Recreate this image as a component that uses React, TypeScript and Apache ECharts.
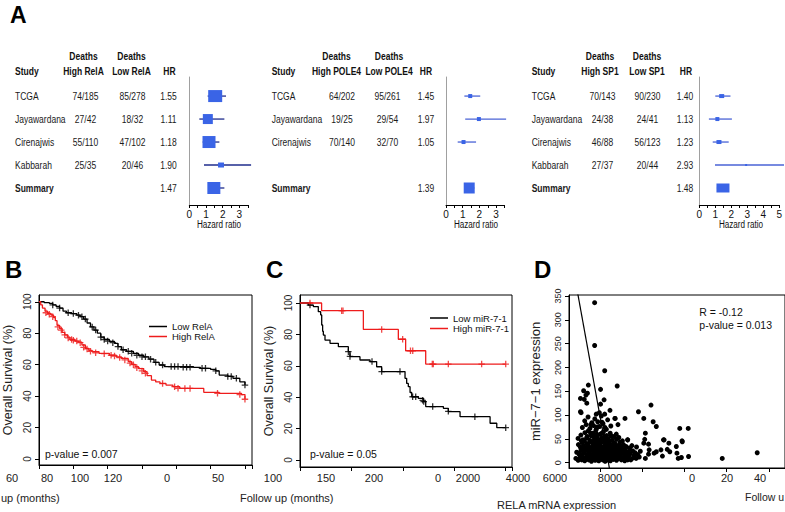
import React, { useEffect, useRef } from 'react';
import * as echarts from 'echarts';

const FONT = '"Liberation Sans", Arial, Helvetica, sans-serif';

// ---------------- Panel A : forest plots ----------------
const relaStudies = ['TCGA', 'Jayawardana', 'Cirenajwis', 'Kabbarah'];
const relaDeathsHigh = ['74/185', '27/42', '55/110', '25/35'];
const relaDeathsLow = ['85/278', '18/32', '47/102', '20/46'];
const relaHR = [1.55, 1.11, 1.18, 1.9];
const relaCILow = [1.1, 0.6, 0.8, 0.88];
const relaCIHigh = [2.2, 2.1, 1.8, 3.7];
const relaSummary = [1.47, 1.2, 2.1];

const pole4Studies = ['TCGA', 'Jayawardana', 'Cirenajwis'];
const pole4DeathsHigh = ['64/202', '19/25', '70/140'];
const pole4DeathsLow = ['95/261', '29/54', '32/70'];
const pole4HR = [1.45, 1.97, 1.05];
const pole4CILow = [1.1, 1.15, 0.7];
const pole4CIHigh = [2.05, 3.6, 1.8];
const pole4Summary = [1.39, 1.15, 1.7];

const sp1Studies = ['TCGA', 'Jayawardana', 'Cirenajwis', 'Kabbarah'];
const sp1DeathsHigh = ['70/143', '24/38', '46/88', '27/37'];
const sp1DeathsLow = ['90/230', '24/41', '56/123', '20/44'];
const sp1HR = [1.4, 1.13, 1.23, 2.93];
const sp1CILow = [1.0, 0.6, 0.84, 0.98];
const sp1CIHigh = [1.95, 2.04, 1.84, 5.3];
const sp1Summary = [1.48, 1.1, 1.85];

// box sizes (style, px)
const relaBoxes = [[14, 12], [10, 10], [13, 12], [6, 5]];
const relaSummaryBox = [13, 12];
const pole4Boxes = [[4, 4], [4, 4], [4, 4]];
const pole4SummaryBox = [11, 11];
const sp1Boxes = [[5, 4], [4, 4], [5, 4], [2, 2]];
const sp1SummaryBox = [13, 9];

// ---------------- Panel B : KM RelA ----------------
const kmLowRelA = [
  [0, 100], [3, 99.5], [6, 99], [8, 98], [10, 97], [12, 96], [14, 94], [16, 93], [19, 92.5], [22, 91.5],
  [24, 90.5], [26, 89], [28, 86.5], [30, 84], [32, 82], [34, 80], [36, 77.5], [38, 76], [41, 74.8], [44, 73.5],
  [46, 71.5], [48, 69.5], [51, 68.5], [55, 67.2], [58, 66], [61, 65], [64, 63.5], [67, 61.5], [70, 59.8], [73, 58.8],
  [90, 58.3], [94, 57.7], [100, 57], [103, 56.1], [105, 53.4], [110, 52.5], [113, 51.3], [117, 49.1], [120, 47],
];
const censorLowRelA = [
  [8, 98], [12, 96], [17, 93], [20, 92.5], [23, 91.5], [25, 90.5], [27, 89], [31, 84], [33, 82], [36, 77.5],
  [38, 76], [40, 75], [43, 74], [46, 71.5], [49, 69.5], [52, 68.5], [54, 67.2], [57, 66], [60, 65], [62, 65],
  [65, 63.5], [68, 61.5], [72, 59.8], [77, 58.8], [79, 58.8], [81, 58.8], [84, 58.3], [86, 58.3], [88, 58.3],
  [95, 57.7], [97, 57.7], [103, 56.1], [110, 52.5], [112, 52.5], [115, 51.3], [120, 47],
];
const kmHighRelA = [
  [0, 100], [1, 98], [2, 96], [3.5, 94], [5, 92.6], [7, 91.5], [8.5, 90], [9.5, 88], [10.5, 85], [12, 83],
  [13.5, 80.5], [15, 79], [16.5, 77.5], [18, 76], [21, 75], [23, 74.3], [25, 72.5], [27, 70.4], [29, 69], [31, 68.2],
  [35, 67.2], [41, 66.1], [45, 65], [48, 64], [52, 61.9], [54, 60.2], [56, 58.7], [58, 57.5], [61, 55.5], [63, 53],
  [65.5, 50.2], [68, 49], [70.5, 48.1], [74, 47], [78, 46], [82, 44.9], [96, 42.4], [105, 41.8], [118, 41], [120, 38],
];
const censorHighRelA = [
  [4, 93], [6, 92], [8, 90.5], [11, 84], [13, 82], [15, 79], [17, 77], [19, 76], [20, 75.5], [22, 75],
  [24, 74], [26, 71], [28, 70], [30, 68.5], [33, 67.5], [38, 67], [42, 66], [44, 65.5], [47, 64.5], [50, 63],
  [53, 61], [55, 60], [57, 58], [60, 56], [62, 54.5], [72, 48], [79, 46], [81, 45], [85, 44.9], [88, 44.9],
  [104, 41.8], [117, 41], [120, 38],
];

// ---------------- Panel C : KM miR-7-1 ----------------
const kmLowMir = [
  [0, 100], [8, 98.7], [13, 97.7], [17.8, 94.5], [20.1, 92.4], [21.1, 86], [22, 82], [22.7, 79.6], [24.3, 76.4],
  [29.2, 74.3], [37.3, 72.2], [47, 69], [48.6, 65.8], [58.3, 63.7], [68.1, 62.7], [74.5, 59.4], [79.4, 56.3],
  [102.1, 52], [103.7, 48.8], [105.3, 46.7], [107, 43], [108.6, 40.3], [115, 39.3], [119.9, 37.2], [122.2, 34],
  [139.4, 32.9], [144.2, 30.8], [155.6, 27.6], [184.8, 23.4], [191.3, 20.6], [200, 20.6],
];
const censorLowMir = [
  [9.7, 98.7], [47, 69], [48.6, 66], [70, 62.7], [79.4, 56.3], [97.2, 56.3], [109.5, 40.3], [112.5, 40.3],
  [119.3, 38], [120.3, 37.2], [129, 34], [144.2, 31], [170, 27.6], [200, 20.6],
];
const kmHighMir = [[0, 100], [21, 95.1], [61.6, 83.2], [95.6, 76.9], [102.7, 69.6], [122.2, 61.1], [200, 61.1]];
const censorHighMir = [
  [9.7, 100], [40.5, 95.1], [41.8, 95.1], [79.4, 83.2], [99.8, 76.9], [107.4, 69.6], [109.6, 69.6],
  [128.6, 61.1], [129.6, 61.1], [144.2, 61.1], [176.6, 61.1], [200, 61.1],
];
const survivalTicks = [0, 20, 40, 60, 80, 100];

// ---------------- Panel D : scatter ----------------
const relaMirPoints = [
  [6840, 9], [6950, 5], [7050, 12], [7120, 6], [7200, 10], [7260, 4], [7330, 8], [7400, 13], [7450, 6], [7520, 10],
  [7580, 3], [7640, 8], [7700, 12], [7760, 5], [7820, 9], [7880, 14], [7930, 4], [7990, 8], [8050, 11], [8110, 6],
  [8170, 13], [8230, 3], [8290, 9], [8350, 6], [8420, 12], [8480, 4], [8550, 10], [8620, 7], [8700, 13], [8770, 5],
  [8840, 9], [8920, 12], [9000, 6], [9080, 10], [9160, 4], [9250, 8], [9350, 13], [9450, 6], [9560, 10], [9700, 9],
  [9850, 12], [10140, 9],
  [6880, 22], [6990, 18], [7080, 26], [7150, 16], [7230, 21], [7300, 28], [7370, 17], [7430, 24], [7500, 19], [7560, 27],
  [7620, 16], [7680, 22], [7740, 29], [7800, 18], [7860, 25], [7910, 20], [7970, 27], [8030, 16], [8090, 23], [8150, 19],
  [8210, 28], [8270, 17], [8330, 24], [8390, 20], [8460, 27], [8530, 18], [8600, 23], [8680, 16], [8750, 26], [8820, 21],
  [8900, 18], [8980, 25], [9060, 20], [9150, 27], [9240, 17], [9330, 22], [9430, 19], [9540, 25], [9650, 21], [9780, 17],
  [9900, 24],
  [6960, 38], [7050, 33], [7140, 42], [7210, 35], [7290, 31], [7360, 40], [7440, 36], [7510, 44], [7590, 32], [7660, 39],
  [7720, 34], [7790, 43], [7850, 37], [7920, 31], [7980, 41], [8040, 35], [8100, 44], [8170, 32], [8240, 38], [8310, 42],
  [8380, 34], [8450, 39], [8530, 31], [8610, 36], [8700, 40], [8790, 33], [8880, 37], [8990, 32], [9100, 38], [9220, 34],
  [9380, 31], [9500, 36], [9720, 33],
  [6945, 51], [7080, 58], [7180, 48], [7270, 63], [7350, 52], [7430, 67], [7500, 47], [7580, 56], [7650, 62], [7720, 50],
  [7790, 68], [7860, 54], [7930, 46], [8000, 60], [8070, 52], [8150, 65], [8230, 48], [8300, 57], [8380, 50], [8470, 62],
  [8560, 47], [8660, 55], [8770, 49], [8880, 53], [9050, 46], [9300, 48],
  [7150, 74], [7260, 88], [7330, 80], [7420, 96], [7510, 72], [7600, 84], [7680, 78], [7740, 92], [7810, 71], [7880, 86],
  [7960, 76], [8050, 98], [8130, 82], [8220, 74], [8350, 90], [8500, 77], [8700, 93], [8840, 80],
  [7350, 12], [7470, 20], [7560, 14], [7610, 30], [7690, 7], [7750, 17], [7840, 32], [7890, 6], [7950, 22], [8010, 47],
  [8060, 28], [8120, 10], [8190, 24], [8260, 40], [8320, 13], [8400, 29], [8440, 8], [8510, 23], [8580, 14], [8640, 31],
  [8720, 20], [8800, 11], [8860, 28], [8950, 15], [9020, 34], [9120, 12], [9200, 24], [9300, 6], [9400, 28], [9600, 15],
  [7250, 45], [7380, 55], [7470, 30], [7540, 62], [7620, 44], [7700, 57], [7770, 38], [7830, 60], [7900, 48], [7960, 37],
  [8080, 62], [8200, 55], [8280, 33], [8420, 45], [8520, 56], [8640, 42], [8760, 60], [8930, 43], [7020, 20], [7100, 46],
  [7180, 28], [7550, 80], [7860, 75], [8080, 85], [8290, 70],
  // sparse / outliers
  [7732, 336], [7732, 246], [8210, 193], [8803, 161], [8013, 154], [7433, 163], [7210, 151], [7390, 146], [7318, 142],
  [7060, 135], [7240, 133], [7360, 125], [8180, 132], [8013, 123], [10408, 121], [9812, 107], [8460, 110], [7090, 105],
  [7808, 102], [7955, 105], [8210, 102], [7060, 107], [8700, 93], [10065, 93], [9173, 93], [10510, 86], [10660, 76],
  [11773, 72], [12175, 72], [10140, 62], [10110, 49], [11000, 48], [11893, 44], [11256, 41], [10065, 41], [10290, 39],
  [11610, 34], [11180, 28], [10880, 27], [11300, 23], [10660, 23], [10320, 27], [10290, 18], [10555, 20], [11640, 20],
  [11700, 9], [11850, 11], [12190, 13], [13790, 9], [15450, 21], [11030, 48], [11880, 46], [9300, 48], [10950, 14],
];
const fitLine = [[6900, 362.5], [8470, -20.3]];
const mirTicks = [0, 50, 100, 150, 200, 250, 300, 350];
const relaTicks = [8000, 10000, 12000, 14000, 16000];

// stray (misaligned) tick labels and titles along the bottom of the figure
const strayTickTexts = ['60', '80', '100', '120', '0', '50', '100', '150', '200', '0', '2000', '4000', '6000', '8000', '0', '20', '40'];
const strayTickX = [12, 47, 80, 113, 167, 218, 273, 326, 374, 438, 468, 518, 555, 610, 692, 727, 760];

const BOX_COLOR = '#3a64e6';
const RED = '#ee1c1c';
const PLUS = 'path://M4,0H6V4H10V6H6V10H4V6H0V4H4Z';

function txt(text: string, x: number, y: number, o: any = {}) {
  const align = o.align || 'left';
  const va = o.va || 'middle';
  return {
    type: 'text', x, y, scaleX: o.sx || 1, silent: true,
    style: {
      text, fill: o.fill || '#111',
      font: `${o.bold ? 'bold ' : ''}${o.size || 11}px ${FONT}`,
      align, textAlign: align, verticalAlign: va, textVerticalAlign: va,
    },
  };
}

const forestPanels = [
  {
    studies: relaStudies, high: relaDeathsHigh, low: relaDeathsLow, hr: relaHR, lo: relaCILow, hi: relaCIHigh,
    sum: relaSummary, boxes: relaBoxes, sumBox: relaSummaryBox, highLabel: 'High RelA', lowLabel: 'Low RelA',
    xMax: 3.5, left: 189.3, lineColor: '#1f2c8c',
    cols: [15, 85.5, 132.5, 168.5], heads: [15, 83.5, 131.5, 169.5], hazardX: 219,
  },
  {
    studies: pole4Studies, high: pole4DeathsHigh, low: pole4DeathsLow, hr: pole4HR, lo: pole4CILow, hi: pole4CIHigh,
    sum: pole4Summary, boxes: pole4Boxes, sumBox: pole4SummaryBox, highLabel: 'High POLE4', lowLabel: 'Low POLE4',
    xMax: 3.5, left: 446, lineColor: '#4a63d6',
    cols: [271.7, 342, 387.5, 426], heads: [271.7, 336.5, 389, 426], hazardX: 476,
  },
  {
    studies: sp1Studies, high: sp1DeathsHigh, low: sp1DeathsLow, hr: sp1HR, lo: sp1CILow, hi: sp1CIHigh,
    sum: sp1Summary, boxes: sp1Boxes, sumBox: sp1SummaryBox, highLabel: 'High SP1', lowLabel: 'Low SP1',
    xMax: 5, left: 699.3, lineColor: '#4a63d6',
    cols: [531.7, 602.5, 647.5, 685], heads: [531.7, 600, 647, 686], hazardX: 741,
  },
];
const UNIT = 16.7;
const TS = 0.74; // condensed table text

function buildOption() {
  const grid: any[] = [];
  const xAxis: any[] = [];
  const yAxis: any[] = [];
  const series: any[] = [];
  const graphics: any[] = [];

  forestPanels.forEach((f, gi) => {
    grid.push({ left: f.left, top: 77, width: f.xMax * UNIT, height: 128 });
    xAxis.push({
      type: 'value', gridIndex: gi, min: 0, max: f.xMax, interval: 0.5,
      axisLine: { show: true, onZero: false, lineStyle: { color: '#000', width: 1 } },
      axisTick: { show: true, length: 3, lineStyle: { color: '#000' } },
      axisLabel: { fontSize: 10, margin: 4, color: '#111', formatter: (v: number) => (Number.isInteger(v) ? String(v) : '') },
      splitLine: { show: false },
    });
    yAxis.push({
      type: 'value', gridIndex: gi, inverse: true, min: -0.83, max: 4.74,
      axisLine: { show: true, onZero: false, lineStyle: { color: '#a0a0a0' } },
      axisTick: { show: false }, axisLabel: { show: false }, splitLine: { show: false },
    });
    const n = f.studies.length;
    const data = f.studies.map((_, i) => [i, f.hr[i], f.lo[i], f.hi[i]]);
    data.push([4, f.sum[0], f.sum[1], f.sum[2]]);
    series.push({
      type: 'custom', xAxisIndex: gi, yAxisIndex: gi, clip: false, silent: true, data,
      renderItem: (params: any, api: any) => {
        const i = params.dataIndex;
        const isSum = i === n;
        const row = api.value(0);
        const hrv = api.value(1);
        const c = api.coord([hrv, row]);
        const a = api.coord([api.value(2), row]);
        const b = api.coord([api.value(3), row]);
        const [bw, bh] = isSum ? f.sumBox : f.boxes[i];
        const y = c[1];
        const t = (text: string, x: number, align: string, bold = false) => ({
          type: 'text', x, y, scaleX: TS,
          style: {
            text, fill: '#1a1a1a', font: `${bold ? 'bold ' : ''}11.5px ${FONT}`,
            align, textAlign: align, verticalAlign: 'middle', textVerticalAlign: 'middle',
          },
        });
        const children: any[] = [
          { type: 'line', shape: { x1: a[0], y1: y, x2: b[0], y2: y }, style: { stroke: f.lineColor, lineWidth: 1.3 } },
          { type: 'rect', shape: { x: c[0] - bw / 2, y: y - bh / 2, width: bw, height: bh }, style: { fill: BOX_COLOR } },
          t(isSum ? 'Summary' : f.studies[i], f.cols[0], 'left', isSum),
          t(hrv.toFixed(2), f.cols[3], 'center'),
        ];
        if (!isSum) {
          children.push(t(f.high[i], f.cols[1], 'center'));
          children.push(t(f.low[i], f.cols[2], 'center'));
        }
        return { type: 'group', children };
      },
    });
    const hb = { bold: true, size: 11.5, sx: TS, align: 'center' };
    graphics.push(txt('Study', f.heads[0], 70.7, { bold: true, size: 11.5, sx: TS }));
    graphics.push(txt('Deaths', f.heads[1], 56, hb));
    graphics.push(txt(f.highLabel, f.heads[1], 70.7, hb));
    graphics.push(txt('Deaths', f.heads[2], 56, hb));
    graphics.push(txt(f.lowLabel, f.heads[2], 70.7, hb));
    graphics.push(txt('HR', f.heads[3], 70.7, hb));
    graphics.push(txt('Hazard ratio', f.hazardX, 224, { size: 11, sx: TS, align: 'center' }));
  });

  // ---- KM + scatter grids
  grid.push({ left: 39, top: 295, width: 213, height: 170, show: true, borderColor: '#000', borderWidth: 1, backgroundColor: 'transparent' });
  grid.push({ left: 300, top: 295, width: 212, height: 172, show: true, borderColor: '#000', borderWidth: 1, backgroundColor: 'transparent' });
  grid.push({ left: 569, top: 295, width: 230, height: 173, show: true, borderColor: '#000', borderWidth: 1, backgroundColor: 'transparent' });

  const xBase = (gi: number, min: number, max: number, extra: any = {}) => ({
    type: 'value', gridIndex: gi, min, max,
    axisLine: { show: true, onZero: false, lineStyle: { color: '#000' } },
    axisTick: { show: true, length: 4, lineStyle: { color: '#000' } },
    axisLabel: { show: false }, splitLine: { show: false }, ...extra,
  });
  xAxis.push(xBase(3, 0, 124.1, { interval: 20 }));
  xAxis.push(xBase(4, 0, 206.1, { interval: 50 }));
  xAxis.push(xBase(5, 6515, 16769, { axisTick: { show: true, length: 4, customValues: relaTicks, lineStyle: { color: '#000' } } }));

  const yBase = (gi: number, min: number, max: number, ticks: number[], name: string, gap: number, size: number, labSize: number) => ({
    type: 'value', gridIndex: gi, min, max,
    axisLine: { show: true, onZero: false, lineStyle: { color: '#000' } },
    axisTick: { show: true, length: 4, customValues: ticks, lineStyle: { color: '#000' } },
    axisLabel: { show: true, customValues: ticks, rotate: 90, fontSize: labSize, color: '#222', margin: 7, fontFamily: FONT },
    splitLine: { show: false },
    name, nameLocation: 'middle', nameGap: gap, nameRotate: 90,
    nameTextStyle: { fontSize: size, color: '#222', fontFamily: FONT },
  });
  yAxis.push(yBase(3, -3.8, 104.3, survivalTicks, 'Overall Survival (%)', 25, 12.5, 10));
  yAxis.push(yBase(4, -4.46, 105.1, survivalTicks, 'Overall Survival (%)', 25, 12.5, 10));
  yAxis.push(yBase(5, -11.1, 352.1, mirTicks, 'miR\u22127\u22121 expression', 27, 13, 9));

  const km = (name: string, gi: number, data: number[][], color: string) => ({
    name, type: 'line', xAxisIndex: gi, yAxisIndex: gi, data, step: 'end', showSymbol: false, color,
    lineStyle: { color, width: 1.3 }, silent: true,
  });
  const cens = (name: string, gi: number, data: number[][], color: string) => ({
    name, type: 'scatter', xAxisIndex: gi, yAxisIndex: gi, data, symbol: PLUS, symbolSize: 6.5, color,
    itemStyle: { color }, silent: true,
  });
  series.push(km('Low RelA', 3, kmLowRelA, '#000'));
  series.push(km('High RelA', 3, kmHighRelA, RED));
  series.push(cens('Low RelA censored', 3, censorLowRelA, '#000'));
  series.push(cens('High RelA censored', 3, censorHighRelA, RED));
  series.push(km('Low miR-7-1', 4, kmLowMir, '#000'));
  series.push(km('High miR-7-1', 4, kmHighMir, RED));
  series.push(cens('Low miR-7-1 censored', 4, censorLowMir, '#000'));
  series.push(cens('High miR-7-1 censored', 4, censorHighMir, RED));
  series.push({
    name: 'samples', type: 'scatter', xAxisIndex: 5, yAxisIndex: 5, data: relaMirPoints,
    symbol: 'circle', symbolSize: 5, itemStyle: { color: '#000', opacity: 1 }, silent: true,
  });
  series.push({
    name: 'fit', type: 'line', xAxisIndex: 5, yAxisIndex: 5, data: fitLine, showSymbol: false, clip: true,
    lineStyle: { color: '#000', width: 1.2 }, color: '#000', silent: true,
  });

  // panel letters
  graphics.push(txt('A', 10, 14.5, { bold: true, size: 23, fill: '#000' }));
  graphics.push(txt('B', 5, 269, { bold: true, size: 24, fill: '#000' }));
  graphics.push(txt('C', 266, 269, { bold: true, size: 24, fill: '#000' }));
  graphics.push(txt('D', 534, 269, { bold: true, size: 24, fill: '#000' }));

  // annotations
  graphics.push(txt('p-value = 0.007', 45, 454, { size: 10.5 }));
  graphics.push(txt('p-value = 0.05', 310, 454, { size: 10.5 }));
  graphics.push(txt('R = -0.12', 699.3, 311.7, { size: 10.5 }));
  graphics.push(txt('p-value = 0.013', 699.3, 325, { size: 10.5 }));

  strayTickTexts.forEach((s, i) => graphics.push(txt(s, strayTickX[i], 478, { size: 11, align: 'center', fill: '#222' })));
  graphics.push(txt('up (months)', 1, 497.5, { size: 11, fill: '#222' }));
  graphics.push(txt('Follow up (months)', 240, 498, { size: 11, fill: '#222' }));
  graphics.push(txt('RELA mRNA expression', 497, 505, { size: 11, fill: '#222' }));
  graphics.push(txt('Follow u', 745, 497, { size: 10.5, fill: '#222' }));

  const legendBase = {
    orient: 'vertical', icon: 'rect', itemWidth: 18, itemHeight: 1.5, padding: 0, selectedMode: false,
  };
  return {
    animation: false,
    backgroundColor: '#fff',
    textStyle: { fontFamily: FONT },
    grid, xAxis, yAxis, series,
    legend: [
      { ...legendBase, itemGap: 0, data: ['Low RelA', 'High RelA'], left: 149, top: 321.5, textStyle: { fontSize: 9.5, lineHeight: 9.5, color: '#111', fontFamily: FONT } },
      { ...legendBase, itemGap: 0.5, data: ['Low miR-7-1', 'High miR-7-1'], left: 430, top: 313, textStyle: { fontSize: 9.5, lineHeight: 9.5, color: '#111', fontFamily: FONT } },
    ],
    graphic: { elements: graphics },
  };
}

export default function App() {
  const ref = useRef<HTMLDivElement>(null);
  useEffect(() => {
    if (!ref.current) return;
    const chart = echarts.init(ref.current, undefined, { renderer: 'svg' });
    chart.setOption(buildOption() as any);
    return () => chart.dispose();
  }, []);
  return (
    <div
      ref={ref}
      style={{ position: 'fixed', left: 0, top: 0, width: 785, height: 512, background: '#fff', overflow: 'hidden' }}
    />
  );
}
